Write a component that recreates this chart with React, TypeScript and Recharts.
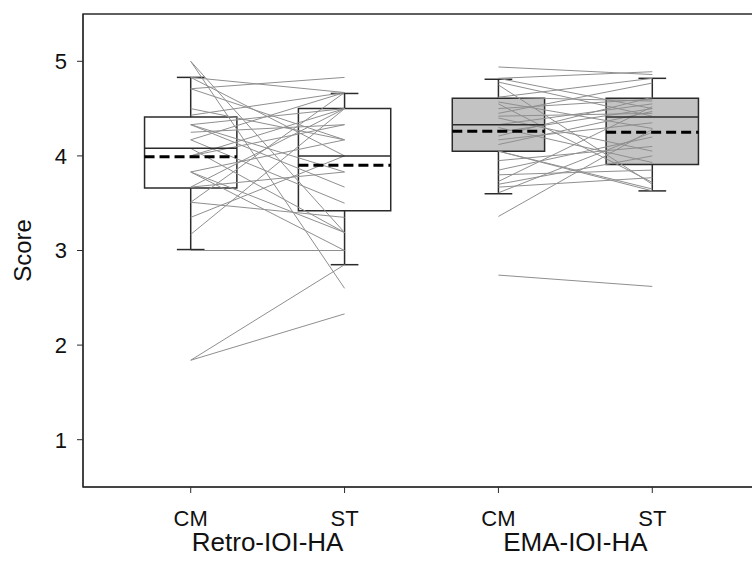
import React from "react";
import {
  ComposedChart,
  Line,
  XAxis,
  YAxis,
  ReferenceArea,
  ReferenceLine,
} from "recharts";

// positions on the x axis, one per box
const boxPositions = [1, 2, 3, 4];
const xTickLabels = ["CM", "ST", "CM", "ST"];
const groupTicks = [1.5, 3.5];
const groupLabels = ["Retro-IOI-HA", "EMA-IOI-HA"];
const yTicks = [1, 2, 3, 4, 5];

// box statistics
const whiskerLow = [3.01, 2.85, 3.6, 3.63];
const quartile1 = [3.66, 3.42, 4.05, 3.91];
const medians = [4.08, 4.0, 4.33, 4.41];
const means = [3.99, 3.9, 4.26, 4.25];
const quartile3 = [4.41, 4.5, 4.61, 4.61];
const whiskerHigh = [4.83, 4.66, 4.81, 4.82];

// paired subject scores (CM -> ST)
const retroCM = [
  5.0, 5.0, 4.83, 4.83, 4.71, 4.71, 4.43, 4.33, 4.33, 4.33, 4.25, 4.17, 4.17,
  4.08, 4.0, 4.0, 3.83, 3.83, 3.67, 3.67, 3.51, 3.51, 3.35, 3.17, 3.0, 1.84,
  1.84, 3.83, 4.5,
];
const retroST = [
  3.19, 2.6, 4.67, 4.0, 4.83, 4.17, 4.67, 3.83, 4.5, 3.67, 4.33, 3.5, 4.67,
  3.19, 4.33, 4.5, 4.17, 3.0, 4.5, 3.83, 4.67, 3.35, 4.0, 4.5, 3.0, 2.85, 2.33,
  3.19, 4.17,
];
const emaCM = [
  4.94, 4.82, 4.82, 4.78, 4.75, 4.62, 4.62, 4.57, 4.55, 4.5, 4.45, 4.42, 4.33,
  4.3, 4.25, 4.21, 4.17, 4.12, 4.05, 4.05, 3.95, 3.85, 3.73, 3.7, 3.67, 3.61,
  3.36, 2.74, 3.8, 4.4,
];
const emaST = [
  4.86, 4.89, 4.5, 4.42, 3.7, 4.82, 4.58, 4.29, 3.72, 4.6, 4.77, 4.45, 4.55,
  3.93, 4.5, 4.62, 4.35, 4.47, 3.65, 3.63, 4.1, 4.2, 4.52, 4.0, 3.77, 4.25,
  4.28, 2.62, 3.85, 4.05,
];

function pairs(left: number[], right: number[], x0: number) {
  const out: { x: number; y: number | null }[] = [];
  left.forEach((v, i) => {
    out.push({ x: x0, y: v });
    out.push({ x: x0 + 1, y: right[i] });
    out.push({ x: x0 + 0.5, y: null });
  });
  return out;
}

const retroPairs = pairs(retroCM, retroST, 1);
const emaPairs = pairs(emaCM, emaST, 3);

const HALF = 0.3;
const CAP = 0.09;
const INK = "#2b2b2b";
const FONT = "'Liberation Sans', Arial, sans-serif";

export default function App() {
  return (
    <div
      style={{
        position: "absolute",
        left: 0,
        top: 0,
        width: 752,
        height: 561,
        overflow: "hidden",
        background: "#fff",
      }}
    >
      <ComposedChart
        width={770}
        height={561}
        margin={{ top: 14, right: 10, bottom: 0, left: 0 }}
        style={{ fontFamily: FONT }}
      >
        <XAxis
          type="number"
          dataKey="x"
          domain={[0.3, 4.7]}
          ticks={boxPositions}
          tickFormatter={(v: number) => xTickLabels[v - 1] ?? ""}
          allowDataOverflow
          height={40}
          tickSize={6}
          tickMargin={17}
          stroke={INK}
          tick={{ fill: "#111", fontSize: 22 }}
        />
        <XAxis
          xAxisId="group"
          type="number"
          dataKey="x"
          domain={[0.3, 4.7]}
          ticks={groupTicks}
          tickFormatter={(v: number) => groupLabels[v === 1.5 ? 0 : 1]}
          allowDataOverflow
          height={34}
          axisLine={false}
          tickLine={false}
          tickSize={0}
          tickMargin={6}
          tick={{ fill: "#111", fontSize: 26 }}
        />
        <YAxis
          type="number"
          domain={[0.5, 5.5]}
          ticks={yTicks}
          allowDataOverflow
          width={83}
          tickSize={6}
          tickMargin={10}
          stroke={INK}
          tick={{ fill: "#111", fontSize: 22 }}
          label={{
            value: "Score",
            angle: -90,
            position: "insideLeft",
            offset: 22,
            style: { textAnchor: "middle", fontSize: 24, fill: "#111" },
          }}
        />

        <ReferenceArea
          x1={0.3}
          x2={4.7}
          y1={0.5}
          y2={5.5}
          fill="none"
          stroke={INK}
          strokeWidth={1.5}
        />

        {boxPositions.map((p, i) => (
          <ReferenceArea
            key={`box-${i}`}
            x1={p - HALF}
            x2={p + HALF}
            y1={quartile1[i]}
            y2={quartile3[i]}
            fill={i < 2 ? "#ffffff" : "#c3c3c3"}
            fillOpacity={1}
            stroke={INK}
            strokeWidth={1.5}
          />
        ))}

        {boxPositions.map((p, i) => (
          <React.Fragment key={`wh-${i}`}>
            <ReferenceLine
              segment={[
                { x: p, y: quartile3[i] },
                { x: p, y: whiskerHigh[i] },
              ]}
              stroke={INK}
              strokeWidth={1.5}
            />
            <ReferenceLine
              segment={[
                { x: p, y: quartile1[i] },
                { x: p, y: whiskerLow[i] },
              ]}
              stroke={INK}
              strokeWidth={1.5}
            />
            <ReferenceLine
              segment={[
                { x: p - CAP, y: whiskerHigh[i] },
                { x: p + CAP, y: whiskerHigh[i] },
              ]}
              stroke={INK}
              strokeWidth={1.5}
            />
            <ReferenceLine
              segment={[
                { x: p - CAP, y: whiskerLow[i] },
                { x: p + CAP, y: whiskerLow[i] },
              ]}
              stroke={INK}
              strokeWidth={1.5}
            />
          </React.Fragment>
        ))}

        <Line
          data={retroPairs}
          dataKey="y"
          stroke="#8f8f8f"
          strokeWidth={1}
          dot={false}
          activeDot={false}
          connectNulls={false}
          isAnimationActive={false}
        />
        <Line
          data={emaPairs}
          dataKey="y"
          stroke="#8f8f8f"
          strokeWidth={1}
          dot={false}
          activeDot={false}
          connectNulls={false}
          isAnimationActive={false}
        />

        {boxPositions.map((p, i) => (
          <React.Fragment key={`mid-${i}`}>
            <ReferenceLine
              segment={[
                { x: p - HALF, y: medians[i] },
                { x: p + HALF, y: medians[i] },
              ]}
              stroke={INK}
              strokeWidth={1.5}
            />
            <ReferenceLine
              segment={[
                { x: p - HALF, y: means[i] },
                { x: p + HALF, y: means[i] },
              ]}
              stroke="#000"
              strokeWidth={3}
              strokeDasharray="10 5"
            />
          </React.Fragment>
        ))}
      </ComposedChart>
    </div>
  );
}
